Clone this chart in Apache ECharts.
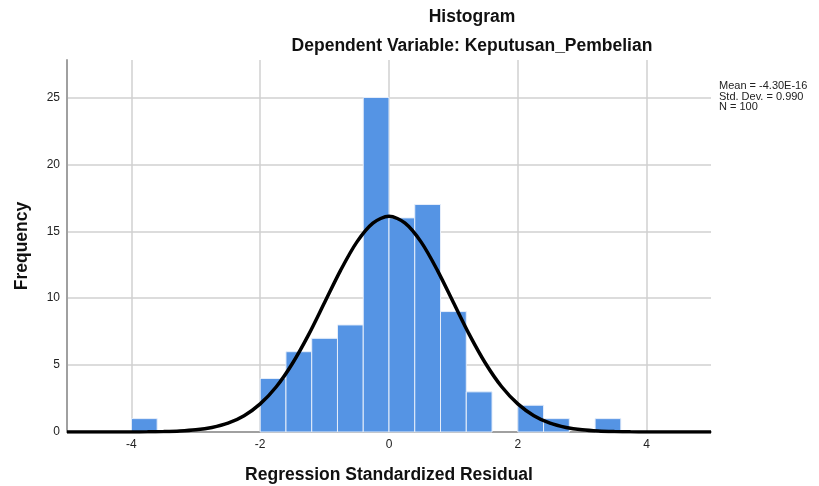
<!DOCTYPE html>
<html>
<head>
<meta charset="utf-8">
<script src="https://cdn.jsdelivr.net/npm/echarts@6/dist/echarts.min.js"></script>
<style>
  html, body { margin: 0; padding: 0; background: #fff; }
  #chart { width: 819px; height: 486px; }
</style>
</head>
<body>
<div id="chart"></div>
<script>
// histogram bins (lower edge) and frequencies
const binStart = [-4.0, -2.0, -1.6, -1.2, -0.8, -0.4, 0.0, 0.4, 0.8, 1.2, 2.0, 2.4, 3.2];
const binCounts = [1, 4, 6, 7, 8, 25, 16, 17, 9, 3, 2, 1, 1];
const binWidth = 0.4;

// normal curve
const curveX = [-5, -4.5, -4, -3.75, -3.5, -3.25, -3, -2.75, -2.5, -2.25, -2, -1.75, -1.5, -1.25, -1, -0.75, -0.5, -0.25,
  0, 0.25, 0.5, 0.75, 1, 1.25, 1.5, 1.75, 2, 2.25, 2.5, 2.75, 3, 3.25, 3.5, 3.75, 4, 4.5, 5];
const curveY = [0, 0, 0, 0.01, 0.03, 0.07, 0.16, 0.34, 0.66, 1.22, 2.1, 3.38, 5.12, 7.26, 9.68, 12.1, 14.19, 15.61,
  16.12, 15.61, 14.19, 12.1, 9.68, 7.26, 5.12, 3.38, 2.1, 1.22, 0.66, 0.34, 0.16, 0.07, 0.03, 0.01, 0, 0, 0];

const statLines = ['Mean = -4.30E-16', 'Std. Dev. = 0.990', 'N = 100'];

const font = "'Liberation Sans', Arial, sans-serif";

const barData = binStart.map((s, i) => [s, s + binWidth, binCounts[i]]);
const lineData = curveX.map((x, i) => [x, curveY[i]]);

const chart = echarts.init(document.getElementById('chart'));

const option = {
  animation: false,
  backgroundColor: '#ffffff',
  title: [
    {
      text: 'Histogram',
      left: 472, top: 8, textAlign: 'center', padding: 0,
      textStyle: { fontFamily: font, fontSize: 17.5, fontWeight: 'bold', color: '#111' }
    },
    {
      text: 'Dependent Variable: Keputusan_Pembelian',
      left: 472, top: 37, textAlign: 'center', padding: 0,
      textStyle: { fontFamily: font, fontSize: 17.5, fontWeight: 'bold', color: '#111' }
    },
    {
      text: statLines.join('\n'),
      left: 719, top: 81, padding: 0,
      textStyle: { fontFamily: font, fontSize: 11, fontWeight: 'normal', color: '#222', lineHeight: 10.5 }
    }
  ],
  grid: { left: 67, right: 108, top: 60, bottom: 54, outerBoundsMode: 'none' },
  xAxis: {
    type: 'value',
    min: -5,
    max: 5,
    name: 'Regression Standardized Residual',
    nameLocation: 'middle',
    nameGap: 34,
    nameTextStyle: { fontFamily: font, fontSize: 17.5, fontWeight: 'bold', color: '#111' },
    axisLine: { show: true, onZero: false, lineStyle: { color: '#a0a0a0', width: 2 } },
    axisTick: { show: false },
    axisLabel: { fontFamily: font, fontSize: 12, color: '#222', margin: 7, showMinLabel: false, showMaxLabel: false },
    splitLine: { show: true, showMinLine: false, showMaxLine: false, lineStyle: { color: '#d0d0d0', width: 1.5 } }
  },
  yAxis: {
    type: 'value',
    min: 0,
    max: 27.8,
    interval: 5,
    name: 'Frequency',
    nameLocation: 'middle',
    nameGap: 36,
    nameTextStyle: { fontFamily: font, fontSize: 17.5, fontWeight: 'bold', color: '#111' },
    axisLine: { show: true, onZero: false, lineStyle: { color: '#a0a0a0', width: 2 } },
    axisTick: { show: false },
    axisLabel: { fontFamily: font, fontSize: 12, color: '#222', margin: 7, showMaxLabel: false },
    splitLine: { show: true, showMinLine: false, showMaxLine: false, lineStyle: { color: '#d0d0d0', width: 1.5 } }
  },
  series: [
    {
      type: 'custom',
      data: barData,
      z: 2,
      renderItem: function (params, api) {
        const p0 = api.coord([api.value(0), api.value(2)]);
        const p1 = api.coord([api.value(1), 0]);
        return {
          type: 'rect',
          shape: { x: p0[0], y: p0[1], width: p1[0] - p0[0], height: p1[1] - p0[1] },
          style: { fill: '#5594e4', stroke: '#e6eefa', lineWidth: 1 }
        };
      }
    },
    {
      type: 'line',
      data: lineData,
      smooth: 0.3,
      showSymbol: false,
      z: 3,
      lineStyle: { color: '#000000', width: 3.5 }
    }
  ]
};

chart.setOption(option);
</script>
</body>
</html>
